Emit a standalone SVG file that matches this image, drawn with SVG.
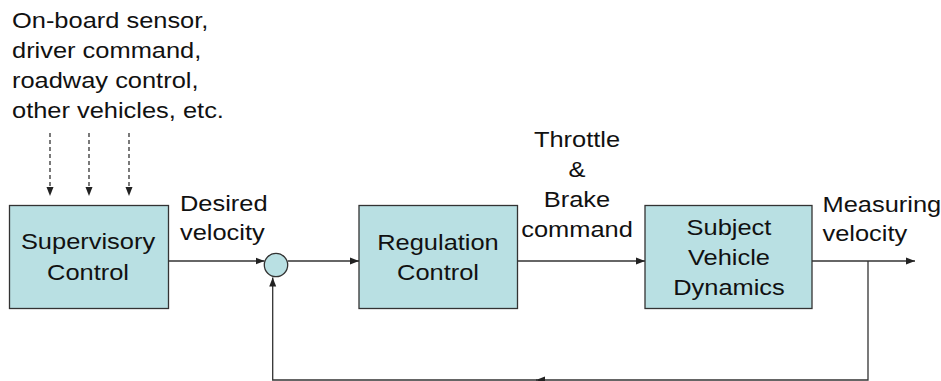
<svg xmlns="http://www.w3.org/2000/svg" width="941" height="381" viewBox="0 0 941 381">
<defs>
<style>
.box{fill:#b9e0e3;stroke:#333;stroke-width:1.3}
.ln{fill:none;stroke:#333;stroke-width:1.3}
.dash{fill:none;stroke:#222;stroke-width:1.2;stroke-dasharray:4 3}
.t{font-family:"Liberation Sans",Arial,sans-serif;font-size:22.3px;fill:#111}
</style>
<marker id="ah" markerUnits="userSpaceOnUse" markerWidth="10" markerHeight="8" refX="9" refY="4" orient="auto">
<path d="M0,0.5 L9,4 L0,7.5 z" fill="#222"/>
</marker>
</defs>
<rect width="941" height="381" fill="#fff"/>

<g id="inputs-label">
<text class="t" transform="translate(12,0) scale(1.14,1)"><tspan x="0" y="28">On-board sensor,</tspan><tspan x="0" y="58">driver command,</tspan><tspan x="0" y="88">roadway control,</tspan><tspan x="0" y="118">other vehicles, etc.</tspan></text>
</g>

<g id="supervisory">
<rect class="box" x="9.5" y="205.5" width="159" height="103"/>
<text class="t" text-anchor="middle" transform="translate(88,0) scale(1.14,1)"><tspan x="0" y="249">Supervisory</tspan><tspan x="0" y="280">Control</tspan></text>
</g>

<g id="sum">
<circle class="box" cx="276" cy="265" r="11.7"/>
</g>

<g id="regulation">
<rect class="box" x="359" y="205.5" width="158.5" height="103"/>
<text class="t" text-anchor="middle" transform="translate(438,0) scale(1.14,1)"><tspan x="0" y="250">Regulation</tspan><tspan x="0" y="280.5">Control</tspan></text>
</g>

<g id="vehicle">
<rect class="box" x="645" y="205.5" width="167" height="103"/>
<text class="t" text-anchor="middle" transform="translate(729,0) scale(1.14,1)"><tspan x="0" y="235">Subject</tspan><tspan x="0" y="265">Vehicle</tspan><tspan x="0" y="295">Dynamics</tspan></text>
</g>

<g id="labels">
<text class="t" transform="translate(180,0) scale(1.14,1)"><tspan x="0" y="211">Desired</tspan><tspan x="0" y="240">velocity</tspan></text>
<text class="t" text-anchor="middle" transform="translate(577,0) scale(1.14,1)"><tspan x="0" y="147">Throttle</tspan><tspan x="0" y="177">&amp;</tspan><tspan x="0" y="207">Brake</tspan><tspan x="0" y="237">command</tspan></text>
<text class="t" transform="translate(822.5,0) scale(1.14,1)"><tspan x="0" y="212">Measuring</tspan><tspan x="0" y="241">velocity</tspan></text>
</g>

<g id="connectors">
<path class="dash" d="M50,133 V196" marker-end="url(#ah)"/>
<path class="dash" d="M89,133 V196" marker-end="url(#ah)"/>
<path class="dash" d="M129,133 V196" marker-end="url(#ah)"/>
<path class="ln" d="M168.5,261 H264.5" marker-end="url(#ah)"/>
<path class="ln" d="M287.7,261 H359" marker-end="url(#ah)"/>
<path class="ln" d="M517.5,261 H645" marker-end="url(#ah)"/>
<path class="ln" d="M812,261 H915" marker-end="url(#ah)"/>
<path class="ln" d="M868,261 V380 H536" marker-end="url(#ah)"/>
<path class="ln" d="M537,380 H272.7 V277.5" marker-end="url(#ah)"/>
</g>
</svg>
